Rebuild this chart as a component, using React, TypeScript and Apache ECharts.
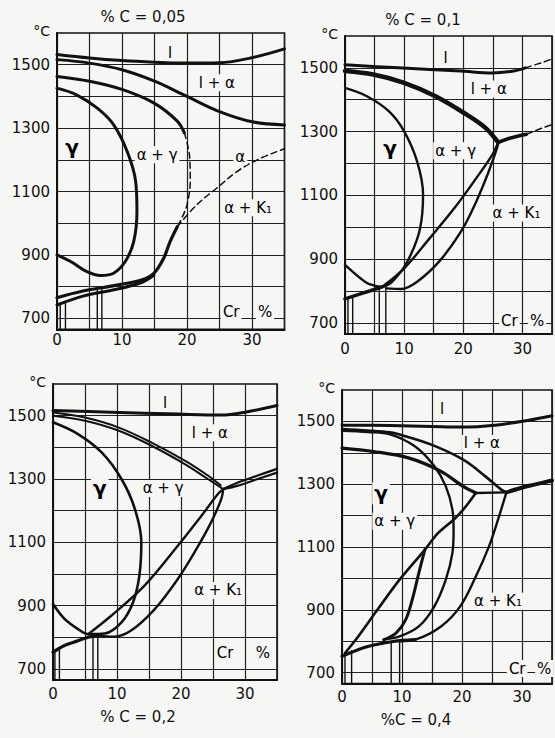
import { useEffect, useRef } from 'react';
import * as echarts from 'echarts';

// ---------- axis values ----------
const xTickLabels = [0, 10, 20, 30];
const yTickLabels = [700, 900, 1100, 1300, 1500];
const yGridValues = [700, 800, 900, 1000, 1100, 1200, 1300, 1400, 1500];
const crRange = [0, 35];
const tRange = [665, 1600];
const panelTitles = ['% C = 0,05', '% C = 0,1', '% C = 0,2', '%C = 0,4'];

// ---------- panel 1 : %C = 0.05 ----------
const p1Liquidus = [[0, 1532], [5, 1521], [10, 1513], [15, 1508], [20, 1505], [25, 1506], [30, 1522], [35, 1550]];
const p1Solidus = [[0, 1516], [5, 1505], [10, 1484], [15, 1448], [20, 1400], [25, 1352], [30, 1320], [35, 1310]];
const p1GammaOuter = [[0, 1463], [5, 1448], [10, 1422], [15, 1378], [18.5, 1322], [19.6, 1285]];
const p1GammaOuterDash = [[19.6, 1285], [20.4, 1210], [20.5, 1132], [20, 1058], [19.2, 1016], [18.5, 989]];
const p1AlphaK1Dash = [[18.5, 989], [21.5, 1058], [24.6, 1111], [27.7, 1163], [30.8, 1200], [35, 1235]];
const p1Eutectoid = [[0, 765], [4, 786], [9, 804], [13, 821], [14.9, 842], [16.4, 889], [17.4, 942], [18.5, 989]];
const p1EutectoidLow = [[0, 742], [4, 770], [9, 791], [13, 813], [14.9, 836]];
const p1GammaInner = [[0, 1426], [3, 1405], [6.2, 1363], [8.7, 1311], [10.8, 1226], [12.1, 1132], [12.3, 1037], [11.8, 942], [10.5, 879], [8.7, 842], [6.7, 835], [4.6, 847], [2.1, 879], [0, 900]];
const p1Verticals = [[0.5, 745], [1.3, 755], [6.2, 795], [6.9, 797]];
const p1Labels = [
  { name: 'l', value: [17.4, 1538] }, { name: 'l + α', value: [24.6, 1443] }, { name: 'γ', value: [2.3, 1241] },
  { name: 'α + γ', value: [15.4, 1216] }, { name: 'α', value: [28.2, 1210] }, { name: 'α + K₁', value: [29.4, 1049] },
  { name: 'Cr', value: [26.8, 721] }, { name: '%', value: [32, 721] },
];

// ---------- panel 2 : %C = 0.1 ----------
const p2Liquidus = [[0, 1510], [9, 1500], [19.6, 1490], [24.9, 1484], [28.5, 1490], [30.5, 1500]];
const p2LiquidusDash = [[30.5, 1500], [33.5, 1518], [35, 1528]];
const p2Solidus = [[0, 1490], [4.8, 1479], [10, 1453], [15.3, 1411], [20.6, 1353], [23.8, 1311], [25.9, 1266]];
const p2Upper = [[25.9, 1266], [28, 1280], [30.7, 1292]];
const p2UpperDash = [[30.7, 1292], [33.3, 1311], [35, 1322]];
const p2Gamma = [[0, 1437], [3.7, 1411], [7.4, 1364], [10, 1301], [12.2, 1206], [13.2, 1102], [12.7, 997], [11.1, 913], [9, 850], [6.3, 813], [4, 822], [2.6, 840], [0, 882]];
const p2LineA = [[6.3, 813], [10, 871], [14.3, 965], [18.5, 1060], [22.2, 1154], [24.9, 1227], [25.9, 1266]];
const p2LineB = [[7, 808], [9.5, 806], [12.2, 829], [15.9, 892], [19.6, 986], [22.2, 1081], [24.3, 1175], [25.7, 1248], [25.9, 1266]];
const p2Eutectoid = [[0, 775], [3, 793], [6.3, 813]];
const p2Verticals = [[0.5, 778], [1.3, 782], [5.8, 810], [6.9, 812]];
const p2Labels = [
  { name: 'l', value: [17, 1531] }, { name: 'l + α', value: [24.3, 1434] }, { name: 'γ', value: [7.6, 1249] },
  { name: 'α + γ', value: [18.7, 1240] }, { name: 'α + K₁', value: [29, 1045] },
  { name: 'Cr', value: [27.8, 707] }, { name: '%', value: [32.5, 707] },
];

// ---------- panel 3 : %C = 0.2 ----------
const p3Liquidus = [[0, 1516], [9.1, 1511], [19.5, 1505], [26.3, 1502], [30, 1511], [35, 1532]];
const p3SolidusA = [[0, 1500], [5, 1484], [10.2, 1453], [15.4, 1405], [20.6, 1347], [24.2, 1300], [26.6, 1268]];
const p3SolidusB = [[0, 1510], [5, 1494], [10.2, 1463], [15.4, 1415], [20.6, 1358], [24.2, 1311], [26.2, 1280]];
const p3UpperA = [[26.6, 1268], [28.9, 1289], [32, 1311], [35, 1332]];
const p3UpperB = [[26.6, 1268], [28.9, 1279], [32, 1300], [35, 1320]];
const p3Gamma = [[0, 1479], [3.9, 1442], [7.6, 1384], [10.7, 1300], [12.8, 1205], [13.8, 1100], [13.5, 995], [12.5, 910], [10.7, 847], [8.1, 812], [5.5, 810], [3.9, 826], [1.8, 858], [0, 905]];
const p3LineA = [[5.5, 810], [9.1, 868], [14.3, 963], [19.5, 1089], [23.2, 1184], [25.8, 1253], [26.6, 1268]];
const p3LineB = [[7, 805], [9.6, 802], [12.2, 821], [15.9, 889], [19.5, 984], [22.1, 1068], [24.7, 1163], [26.3, 1237], [26.6, 1268]];
const p3Eutectoid = [[0, 753], [1.8, 774], [3.9, 789], [5.5, 800], [7, 805]];
const p3Verticals = [[0.3, 758], [1.0, 768], [6.25, 803], [7, 805]];
const p3Labels = [
  { name: 'l', value: [17.5, 1541] }, { name: 'l + α', value: [24.5, 1446] }, { name: 'γ', value: [7.3, 1273] },
  { name: 'α + γ', value: [17.2, 1270] }, { name: 'α + K₁', value: [25.8, 948] },
  { name: 'Cr', value: [26.9, 749] }, { name: '%', value: [32.8, 749] },
];

// ---------- panel 4 : %C = 0.4 ----------
const p4Liquidus = [[0, 1488], [8, 1487], [15, 1484], [20, 1482], [25.5, 1488], [30.9, 1503], [35, 1518]];
const p4Solidus = [[0, 1476], [4.3, 1471], [8, 1465], [9.6, 1458], [14.9, 1426], [20.2, 1378], [23.9, 1325], [26.6, 1282], [27.4, 1274]];
const p4Gamma = [[0, 1470], [4.3, 1466], [8, 1459], [12.2, 1420], [15.4, 1357], [17.3, 1293], [18.4, 1219], [18.6, 1155], [18.4, 1081], [17.3, 996], [15.4, 911], [12.8, 847], [9.6, 815], [6.9, 805]];
const p4Alpha = [[0, 1415], [5.3, 1404], [11.2, 1383], [16.5, 1341], [20.2, 1293], [22.3, 1272]];
const p4Eutectic = [[22.3, 1272], [27.4, 1274]];
const p4Upper = [[27.4, 1274], [29.8, 1288], [31.9, 1298], [35, 1312]];
const p4Diagonal = [[22.3, 1272], [20.2, 1219], [18.6, 1187], [16, 1144], [13.8, 1091], [9.6, 996], [5.9, 900], [2.7, 815], [0.5, 762]];
const p4Steep = [[13.8, 1091], [12.8, 1017], [11.7, 932], [10.6, 868], [9, 826], [7, 805]];
const p4K1 = [[27.4, 1274], [26, 1187], [24.5, 1102], [22.3, 1006], [19.7, 911], [16.5, 847], [12.2, 805], [9.6, 800]];
const p4Eutectoid = [[0, 752], [4.3, 783], [8.5, 799], [12.2, 805]];
const p4Verticals = [[0.5, 760], [1.6, 772], [8.2, 800], [9.6, 802]];
const p4Labels = [
  { name: 'l', value: [16.7, 1538] }, { name: 'l + α', value: [23.3, 1430] }, { name: 'γ', value: [6.5, 1271] },
  { name: 'α + γ', value: [8.8, 1182] }, { name: 'α + K₁', value: [26, 927] },
  { name: 'Cr', value: [29.2, 713] }, { name: '%', value: [33.7, 713] },
];

// ---------- styling / layout ----------
const INK = '#111111';
const BG = '#f6f6f4';
const FONT = 'DejaVu Sans';

type Curve = { d: number[][]; w: number; dash?: boolean };

const panelCurves: Curve[][] = [
  [
    { d: p1Liquidus, w: 3 }, { d: p1Solidus, w: 3 }, { d: p1GammaOuter, w: 3 },
    { d: p1GammaOuterDash, w: 1.5, dash: true }, { d: p1AlphaK1Dash, w: 1.5, dash: true },
    { d: p1Eutectoid, w: 3.2 }, { d: p1EutectoidLow, w: 3 }, { d: p1GammaInner, w: 3 },
  ],
  [
    { d: p2Liquidus, w: 3 }, { d: p2LiquidusDash, w: 1.5, dash: true }, { d: p2Solidus, w: 4.5 },
    { d: p2Upper, w: 3.5 }, { d: p2UpperDash, w: 1.5, dash: true }, { d: p2Gamma, w: 2.4 },
    { d: p2LineA, w: 2.4 }, { d: p2LineB, w: 2.4 }, { d: p2Eutectoid, w: 3.5 },
  ],
  [
    { d: p3Liquidus, w: 3 }, { d: p3SolidusA, w: 2 }, { d: p3SolidusB, w: 2 },
    { d: p3UpperA, w: 2.2 }, { d: p3UpperB, w: 2.2 }, { d: p3Gamma, w: 2.6 },
    { d: p3LineA, w: 2.4 }, { d: p3LineB, w: 2.4 }, { d: p3Eutectoid, w: 3.2 },
  ],
  [
    { d: p4Liquidus, w: 3 }, { d: p4Solidus, w: 2.6 }, { d: p4Gamma, w: 2.4 },
    { d: p4Alpha, w: 3.2 }, { d: p4Eutectic, w: 2.4 }, { d: p4Upper, w: 4 },
    { d: p4Diagonal, w: 2.6 }, { d: p4Steep, w: 3 }, { d: p4K1, w: 2.4 }, { d: p4Eutectoid, w: 3.2 },
  ],
];
const panelVerticals = [p1Verticals, p2Verticals, p3Verticals, p4Verticals];
const panelLabels = [p1Labels, p2Labels, p3Labels, p4Labels];

const grids = [
  { left: 57, top: 33, width: 227.5, height: 296.4 },
  { left: 345, top: 36, width: 220.5, height: 298 },
  { left: 53, top: 384, width: 224, height: 296 },
  { left: 342, top: 390, width: 219.5, height: 293.6 },
];
const xLabelMargin = [3, 7, 6, 6];
const titlePos = [[143, 17], [423, 20], [138, 717], [416, 720]];

export default function App() {
  const ref = useRef<HTMLDivElement>(null);

  useEffect(() => {
    document.body.style.margin = '0';
    document.body.style.background = BG;
    if (!ref.current) return;
    const chart = echarts.init(ref.current, undefined, { renderer: 'svg' });

    const series: any[] = [];
    panelCurves.forEach((curves, i) => {
      curves.forEach((c) => {
        series.push({
          type: 'line', xAxisIndex: i, yAxisIndex: i, data: c.d, smooth: 0.35,
          symbol: 'none', silent: true, clip: true, z: 3,
          lineStyle: { color: INK, width: c.w, type: c.dash ? [6, 4] : 'solid', cap: 'round', join: 'round' },
        });
      });
      panelVerticals[i].forEach((v) => {
        series.push({
          type: 'line', xAxisIndex: i, yAxisIndex: i, data: [[v[0], v[1]], [v[0], tRange[0]]],
          symbol: 'none', silent: true, clip: true, z: 3,
          lineStyle: { color: INK, width: 1.4 },
        });
      });
      series.push({
        type: 'scatter', xAxisIndex: i, yAxisIndex: i, symbolSize: 2, silent: true, z: 6,
        itemStyle: { color: 'rgba(0,0,0,0)' },
        labelLayout: { hideOverlap: false },
        data: panelLabels[i].map((l) => (l.name === 'γ'
          ? { ...l, label: { fontSize: 20, fontWeight: 'bold' } }
          : { ...l })),
        label: {
          show: true, position: 'inside', formatter: '{b}', color: '#000', opacity: 1,
          fontFamily: FONT, fontSize: 15, textBorderWidth: 0,
          backgroundColor: BG, padding: [1, 2],
        },
      });
    });

    const option: any = {
      animation: false,
      backgroundColor: BG,
      grid: grids.map((g) => ({ ...g, show: true, borderColor: INK, borderWidth: 1.6, backgroundColor: 'transparent', containLabel: false })),
      xAxis: grids.map((_, i) => ({
        gridIndex: i, type: 'value', min: crRange[0], max: crRange[1], interval: 5,
        axisLine: { show: true, onZero: false, lineStyle: { color: INK, width: 2 } },
        axisTick: { show: false },
        splitLine: { show: true, lineStyle: { color: '#222', width: 1.2 } },
        axisLabel: {
          margin: xLabelMargin[i], color: INK, fontFamily: FONT, fontSize: 15,
          formatter: (v: number) => (xTickLabels.includes(v) ? String(v) : ''),
        },
      })),
      yAxis: grids.map((_, i) => ({
        gridIndex: i, type: 'value', min: tRange[0], max: tRange[1],
        axisLine: { show: true, onZero: false, lineStyle: { color: INK, width: 2 } },
        axisTick: { show: false, customValues: yGridValues },
        splitLine: { show: true, lineStyle: { color: '#222', width: 1.2 } },
        axisLabel: {
          customValues: yTickLabels, margin: 7, color: INK, fontFamily: FONT, fontSize: 15,
          formatter: (v: number) => String(v),
        },
        name: '°C', nameLocation: 'end', nameGap: 2,
        nameTextStyle: { color: INK, fontFamily: FONT, fontSize: 14, align: 'right', verticalAlign: 'middle', padding: [0, 7, 0, 0] },
      })),
      graphic: panelTitles.map((t, i) => ({
        type: 'text', x: titlePos[i][0], y: titlePos[i][1],
        style: { text: t, fill: INK, font: `15px "${FONT}"`, textAlign: 'center', textVerticalAlign: 'middle' },
      })),
      series,
    };
    chart.setOption(option);
    return () => chart.dispose();
  }, []);

  return <div ref={ref} style={{ width: 555, height: 738, background: BG }} />;
}
